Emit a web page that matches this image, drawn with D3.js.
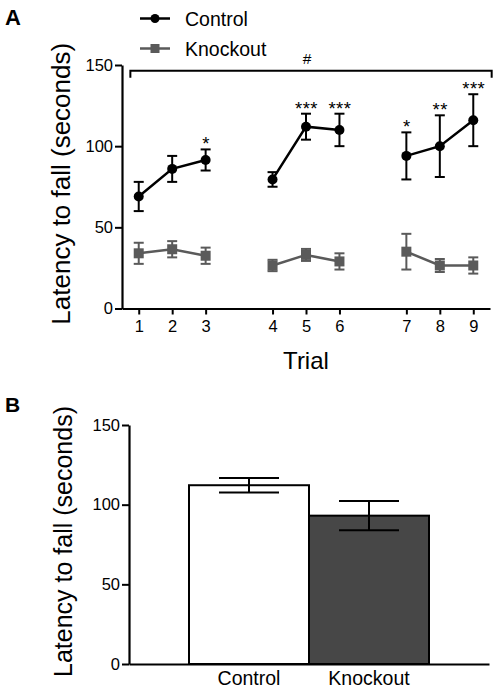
<!DOCTYPE html>
<html>
<head>
<meta charset="utf-8">
<script src="https://cdn.jsdelivr.net/npm/d3@7/dist/d3.min.js"></script>
<style>
  html, body { margin: 0; padding: 0; background: #fff; }
  svg { display: block; font-family: "Liberation Sans", Arial, sans-serif; }
</style>
</head>
<body>
<svg id="chart" width="498" height="691"></svg>
<script>
// ---- Data (panel A) ----
const trials = [1, 2, 3, 4, 5, 6, 7, 8, 9];
const blocks = [1, 1, 1, 2, 2, 2, 3, 3, 3];
const controlMean = [69, 86, 91.5, 79.5, 112, 110, 94, 100, 116];
const controlErr  = [9, 8, 6.5, 4.5, 8, 10, 14.5, 19, 16];
const knockoutMean = [34, 36.5, 32.5, 26.5, 33, 29, 35, 26.5, 26.5];
const knockoutErr  = [6.5, 5, 5, 3.5, 3.7, 5, 11, 4, 5];
const significance = ["", "", "*", "", "***", "***", "*", "**", "***"];
const yTicksA = [0, 50, 100, 150];
const seriesNames = ["Control", "Knockout"];

// ---- Data (panel B) ----
const groupsB = ["Control", "Knockout"];
const meanB = [112.2, 93.1];
const errB = [4.6, 9.2];
const yTicksB = [0, 50, 100, 150];

const svg = d3.select("#chart");
const FONT = "'Liberation Sans', Arial, sans-serif";

// ================= Panel A =================
const pos = trials.map((t, i) => (t - 1) + (blocks[i] - 1));
const xA = d3.scaleLinear().domain([-0.5, 10.5]).range([122, 490]);
const yA = d3.scaleLinear().domain([0, 150]).range([308.5, 65]);

const gA = svg.append("g");

// axes
const yAxisA = d3.axisLeft(yA).tickValues(yTicksA).tickSize(7).tickPadding(2).tickSizeOuter(0);
const gyA = gA.append("g").attr("transform", `translate(${xA.range()[0]},0)`).call(yAxisA);
const xAxisA = d3.axisBottom(xA).tickValues(pos).tickFormat((d, i) => trials[i])
  .tickSize(6).tickPadding(6).tickSizeOuter(0);
const gxA = gA.append("g").attr("transform", `translate(0,${yA(0)})`).call(xAxisA);
[gyA, gxA].forEach(g => {
  g.select(".domain").attr("stroke", "#000").attr("stroke-width", 2.2);
  g.selectAll(".tick line").attr("stroke", "#000").attr("stroke-width", 2);
  g.selectAll(".tick text").attr("fill", "#000").style("font-size", "16.5px").style("font-family", FONT);
});

// axis titles
gA.append("text")
  .attr("transform", `translate(70,${(yA(0) + yA(150)) / 2 - 3}) rotate(-90)`)
  .attr("text-anchor", "middle").style("font-size", "26px").text("Latency to fall (seconds)");
gA.append("text").attr("x", (xA.range()[0] + xA.range()[1]) / 2).attr("y", 369)
  .attr("text-anchor", "middle").style("font-size", "24px").text("Trial");

// series
const seriesA = [
  { name: seriesNames[0], mean: controlMean, err: controlErr, color: "#000", shape: "circle" },
  { name: seriesNames[1], mean: knockoutMean, err: knockoutErr, color: "#5a5a5a", shape: "square" }
];
const line = d3.line().x(d => xA(d.p)).y(d => yA(d.m));

seriesA.slice().reverse().forEach(s => {
  const pts = trials.map((t, i) => ({ p: pos[i], m: s.mean[i], e: s.err[i], b: blocks[i] }));
  const g = gA.append("g");
  d3.groups(pts, d => d.b).forEach(([b, arr]) => {
    g.append("path").datum(arr).attr("d", line)
      .attr("fill", "none").attr("stroke", s.color).attr("stroke-width", 2.5);
  });
  const eb = g.selectAll(".eb").data(pts).join("g");
  eb.append("line").attr("x1", d => xA(d.p)).attr("x2", d => xA(d.p))
    .attr("y1", d => yA(d.m - d.e)).attr("y2", d => yA(d.m + d.e))
    .attr("stroke", s.color).attr("stroke-width", 2);
  [1, -1].forEach(sg => {
    eb.append("line").attr("x1", d => xA(d.p) - 5).attr("x2", d => xA(d.p) + 5)
      .attr("y1", d => yA(d.m + sg * d.e)).attr("y2", d => yA(d.m + sg * d.e))
      .attr("stroke", s.color).attr("stroke-width", 2);
  });
  if (s.shape === "circle") {
    g.selectAll(".mk").data(pts).join("circle")
      .attr("cx", d => xA(d.p)).attr("cy", d => yA(d.m)).attr("r", 5).attr("fill", s.color);
  } else {
    g.selectAll(".mk").data(pts).join("rect")
      .attr("x", d => xA(d.p) - 5).attr("y", d => yA(d.m) - 5)
      .attr("width", 10).attr("height", 10).attr("fill", s.color);
  }
});

// significance stars
gA.selectAll(".sig").data(trials.map((t, i) => ({ p: pos[i], top: controlMean[i] + controlErr[i], s: significance[i] })))
  .join("text")
  .attr("x", d => xA(d.p) + 0.5).attr("y", d => yA(d.top) + 1)
  .attr("text-anchor", "middle").style("font-size", "18.5px").style("letter-spacing", "0.5px")
  .text(d => d.s);

// bracket with #
const brY = yA(146.5);
gA.append("path")
  .attr("d", `M${xA(-0.25)},${brY + 7}V${brY}H${xA(10.55)}V${brY + 7}`)
  .attr("fill", "none").attr("stroke", "#000").attr("stroke-width", 2);
gA.append("text").attr("x", 307).attr("y", 64).attr("text-anchor", "middle")
  .style("font-size", "15.5px").text("#");

// legend
const leg = gA.append("g");
seriesA.forEach((s, i) => {
  const ly = 18.5 + i * 30;
  leg.append("line").attr("x1", 140).attr("x2", 170).attr("y1", ly).attr("y2", ly)
    .attr("stroke", s.color).attr("stroke-width", 2.5);
  if (s.shape === "circle") leg.append("circle").attr("cx", 155).attr("cy", ly).attr("r", 4.5).attr("fill", s.color);
  else leg.append("rect").attr("x", 150.5).attr("y", ly - 4.5).attr("width", 9).attr("height", 9).attr("fill", s.color);
  leg.append("text").attr("x", 185).attr("y", ly + 7.5).style("font-size", "19.5px").text(s.name);
});

svg.append("text").attr("x", 5).attr("y", 25).style("font-size", "22px").style("font-weight", "bold").text("A");

// ================= Panel B =================
const xB = d3.scaleBand().domain(groupsB).range([129, 489]).paddingInner(0).paddingOuter(0.5);
const yB = d3.scaleLinear().domain([0, 150]).range([664, 425]);
const gB = svg.append("g");

const fills = ["#ffffff", "#474747"];
gB.selectAll(".bar").data(groupsB).join("rect")
  .attr("x", d => xB(d)).attr("y", (d, i) => yB(meanB[i]))
  .attr("width", xB.bandwidth()).attr("height", (d, i) => yB(0) - yB(meanB[i]))
  .attr("fill", (d, i) => fills[i]).attr("stroke", "#000").attr("stroke-width", 2);

groupsB.forEach((gname, i) => {
  const cx = xB(gname) + xB.bandwidth() / 2;
  const hw = xB.bandwidth() / 4;
  gB.append("line").attr("x1", cx).attr("x2", cx)
    .attr("y1", yB(meanB[i] - errB[i])).attr("y2", yB(meanB[i] + errB[i]))
    .attr("stroke", "#000").attr("stroke-width", 2);
  [1, -1].forEach(sg => {
    gB.append("line").attr("x1", cx - hw).attr("x2", cx + hw)
      .attr("y1", yB(meanB[i] + sg * errB[i])).attr("y2", yB(meanB[i] + sg * errB[i]))
      .attr("stroke", "#000").attr("stroke-width", 2);
  });
});

const yAxisB = d3.axisLeft(yB).tickValues(yTicksB).tickSize(7).tickPadding(2).tickSizeOuter(0);
const gyB = gB.append("g").attr("transform", `translate(129,0)`).call(yAxisB);
const xAxisB = d3.axisBottom(xB).tickSize(0).tickPadding(7).tickSizeOuter(0);
const gxB = gB.append("g").attr("transform", `translate(0,${yB(0)})`).call(xAxisB);
[gyB, gxB].forEach(g => {
  g.select(".domain").attr("stroke", "#000").attr("stroke-width", 2.2);
  g.selectAll(".tick line").attr("stroke", "#000").attr("stroke-width", 2);
  g.selectAll(".tick text").attr("fill", "#000").style("font-family", FONT);
});
gyB.selectAll(".tick text").style("font-size", "16.5px");
gxB.selectAll(".tick text").style("font-size", "19.5px");

gB.append("text")
  .attr("transform", `translate(72,${(yB(0) + yB(150)) / 2 - 3}) rotate(-90)`)
  .attr("text-anchor", "middle").style("font-size", "25px").text("Latency to fall (seconds)");

svg.append("text").attr("x", 5).attr("y", 412).style("font-size", "21px").style("font-weight", "bold").text("B");
</script>
</body>
</html>
